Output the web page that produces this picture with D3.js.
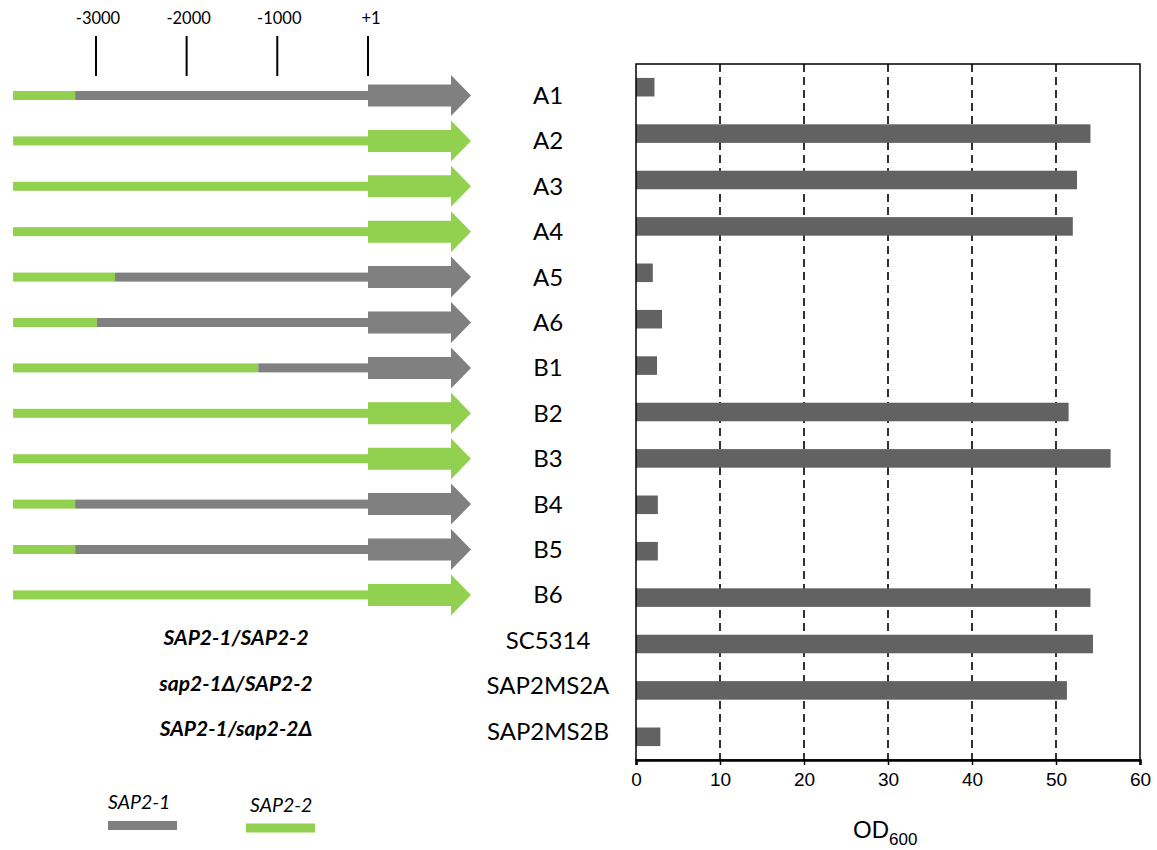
<!DOCTYPE html>
<html>
<head>
<meta charset="utf-8">
<script src="https://cdn.jsdelivr.net/npm/d3@7"></script>
<style>
  body { margin: 0; background: #fff; }
  svg { display: block; }
</style>
</head>
<body>
<div id="chart"></div>
<script>
// construct names (rows with a promoter drawing) and the strains below them
const constructs = ['A1', 'A2', 'A3', 'A4', 'A5', 'A6', 'B1', 'B2', 'B3', 'B4', 'B5', 'B6'];
const strains = ['SC5314', 'SAP2MS2A', 'SAP2MS2B'];
const categories = constructs.concat(strains);

// OD600 per row
const od600 = [2.2, 54.1, 52.5, 52.0, 2.0, 3.1, 2.5, 51.5, 56.5, 2.6, 2.6, 54.1, 54.4, 51.3, 2.9];

// promoter: SAP2-2 sequence up to this position (bp), SAP2-1 after it (1 = all SAP2-2)
const swapPos = [-3230, 1, 1, 1, -2790, -2990, -1210, 1, 1, -3230, -3230, 1];
// allele of the coding region (arrow)
const orfAllele = ['SAP2-1', 'SAP2-2', 'SAP2-2', 'SAP2-2', 'SAP2-1', 'SAP2-1', 'SAP2-1',
                   'SAP2-2', 'SAP2-2', 'SAP2-1', 'SAP2-1', 'SAP2-2'];
const promoterStart = -3915;

const posTicks = [-3000, -2000, -1000, 1];
const posTickLabels = ['-3000', '-2000', '-1000', '+1'];
const odTicks = [0, 10, 20, 30, 40, 50, 60];

const genotypes = ['SAP2-1/SAP2-2', 'sap2-1\u0394/SAP2-2', 'SAP2-1/sap2-2\u0394'];
const legendNames = ['SAP2-1', 'SAP2-2'];

const colors = { 'SAP2-1': '#808080', 'SAP2-2': '#92d050' };
const calibri = "Lato, 'Open Sans', 'DejaVu Sans', sans-serif";

const W = 1157, H = 850;
const svg = d3.select('#chart').append('svg')
  .attr('width', W)
  .attr('height', H);

// ---- left part: promoter maps ----
const px = d3.scaleLinear().domain([-3000, 1]).range([96, 368]);
const rowY = d3.scalePoint().domain(categories).range([95.5, 95.5 + 45.4 * 14]);

const topAxis = svg.append('g');
topAxis.selectAll('line')
  .data(posTicks)
  .enter().append('line')
  .attr('x1', d => px(d)).attr('x2', d => px(d))
  .attr('y1', 36).attr('y2', 76)
  .attr('stroke', '#000')
  .attr('stroke-width', 2);
topAxis.selectAll('text')
  .data(posTicks)
  .enter().append('text')
  .attr('x', (d, i) => px(d) + (i === 3 ? 3 : 2))
  .attr('y', 24)
  .attr('text-anchor', 'middle')
  .attr('font-family', calibri)
  .attr('font-size', '16.5px')
  .text((d, i) => posTickLabels[i]);

const lineH = 9, bodyH = 22, headH = 41, bodyLen = 83, headLen = 20;

const rows = svg.selectAll('.construct')
  .data(constructs)
  .enter().append('g')
  .attr('class', 'construct')
  .attr('transform', d => `translate(0,${rowY(d)})`);

// SAP2-2 part of promoter
rows.append('rect')
  .attr('x', px(promoterStart))
  .attr('y', -lineH / 2)
  .attr('width', (d, i) => px(swapPos[i]) - px(promoterStart))
  .attr('height', lineH)
  .attr('fill', colors['SAP2-2']);

// SAP2-1 part of promoter
rows.append('rect')
  .attr('x', (d, i) => px(swapPos[i]))
  .attr('y', -lineH / 2)
  .attr('width', (d, i) => Math.max(0, px(1) - px(swapPos[i])))
  .attr('height', lineH)
  .attr('fill', colors['SAP2-1']);

// coding region arrow
rows.append('path')
  .attr('d', () => {
    const x0 = px(1), x1 = x0 + bodyLen, x2 = x1 + headLen;
    return `M${x0},${-bodyH / 2}H${x1}V${-headH / 2}L${x2},0L${x1},${headH / 2}V${bodyH / 2}H${x0}Z`;
  })
  .attr('fill', (d, i) => colors[orfAllele[i]]);

// row labels
svg.selectAll('.row-label')
  .data(categories)
  .enter().append('text')
  .attr('class', 'row-label')
  .attr('x', 548)
  .attr('y', d => rowY(d))
  .attr('dy', '0.35em')
  .attr('text-anchor', 'middle')
  .attr('font-family', calibri)
  .attr('font-size', '24px')
  .text(d => d);

// genotype labels
svg.selectAll('.genotype')
  .data(genotypes)
  .enter().append('text')
  .attr('class', 'genotype')
  .attr('x', 236)
  .attr('y', (d, i) => 638 + i * 45.5)
  .attr('dy', '0.35em')
  .attr('text-anchor', 'middle')
  .attr('font-family', calibri)
  .attr('font-size', '21px')
  .attr('font-weight', 'bold')
  .attr('font-style', 'italic')
  .text(d => d);

// legend
const legend = svg.selectAll('.legend')
  .data(legendNames)
  .enter().append('g')
  .attr('class', 'legend')
  .attr('transform', (d, i) => `translate(${i ? 246 : 108},${i ? 823.5 : 821})`);
legend.append('rect')
  .attr('width', 69)
  .attr('height', 9)
  .attr('fill', d => colors[d]);
legend.append('text')
  .attr('x', (d, i) => i ? 4 : 0)
  .attr('y', -12)
  .attr('font-family', calibri)
  .attr('font-size', '19.5px')
  .attr('font-style', 'italic')
  .text(d => d);

// ---- right part: OD600 bars ----
const plot = { left: 636, right: 1140, top: 64, bottom: 760 };
const x = d3.scaleLinear().domain([0, 60]).range([plot.left, plot.right]);
const y = d3.scaleBand().domain(categories).range([plot.top, plot.bottom]).paddingInner(0.6).paddingOuter(0.3);

// dashed gridlines
svg.append('g')
  .selectAll('line')
  .data(odTicks.slice(1, -1))
  .enter().append('line')
  .attr('x1', d => x(d)).attr('x2', d => x(d))
  .attr('y1', plot.top).attr('y2', plot.bottom)
  .attr('stroke', '#000')
  .attr('stroke-width', 1.6)
  .attr('stroke-dasharray', '8,5');

svg.selectAll('.bar')
  .data(categories)
  .enter().append('rect')
  .attr('class', 'bar')
  .attr('x', x(0))
  .attr('y', d => y(d))
  .attr('width', (d, i) => x(od600[i]) - x(0))
  .attr('height', y.bandwidth())
  .attr('fill', '#626262');

// plot frame
svg.append('rect')
  .attr('x', plot.left).attr('y', plot.top)
  .attr('width', plot.right - plot.left)
  .attr('height', plot.bottom - plot.top)
  .attr('fill', 'none')
  .attr('stroke', '#000')
  .attr('stroke-width', 1.5);

const xAxis = svg.append('g')
  .attr('transform', `translate(0,${plot.bottom})`)
  .call(d3.axisBottom(x).tickValues(odTicks).tickSize(5).tickPadding(8));
xAxis.select('.domain').attr('stroke-width', 2.5);
xAxis.selectAll('.tick line').attr('stroke-width', 1.5);
xAxis.selectAll('.tick text')
  .attr('font-family', "'Liberation Sans', Arial, sans-serif")
  .attr('font-size', '19px')
  .attr('fill', '#000');

const title = svg.append('text')
  .attr('x', 853)
  .attr('y', 838)
  .attr('font-family', "'Liberation Sans', Arial, sans-serif")
  .attr('font-size', '24px');
title.append('tspan').text('OD');
title.append('tspan').attr('dy', 7).attr('font-size', '17px').text('600');
</script>
</body>
</html>
